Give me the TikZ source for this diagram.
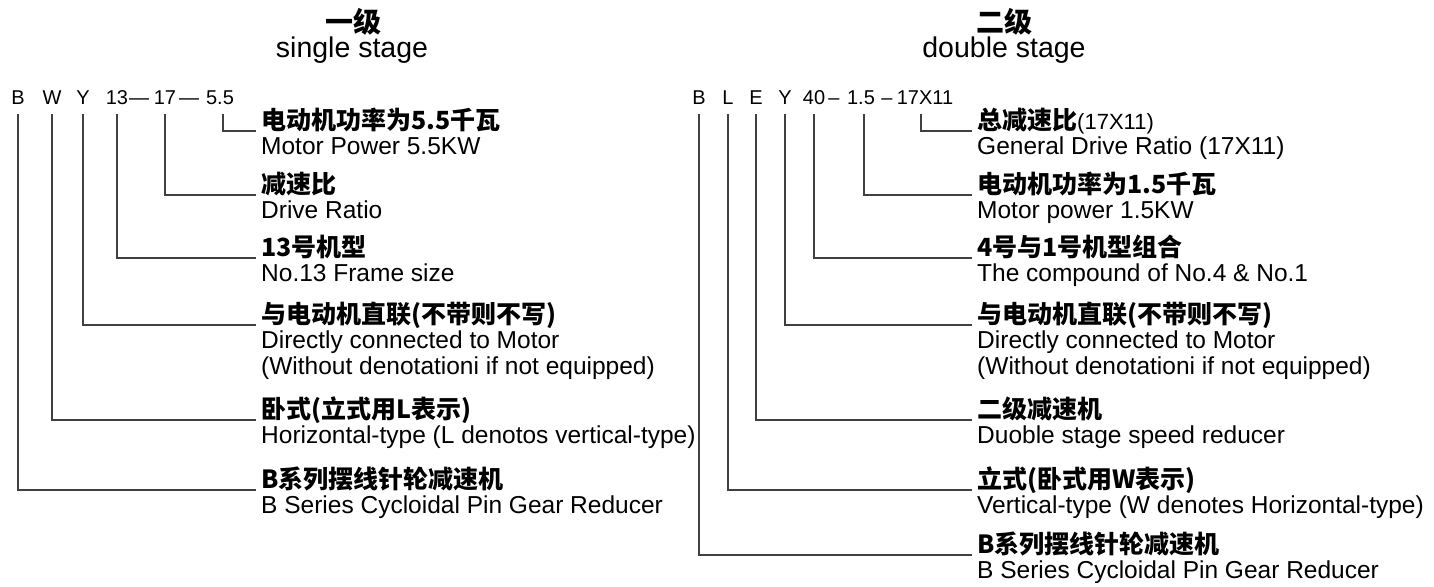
\documentclass[tikz,border=0pt]{standalone}
\usepackage{fontspec}
\setmainfont{Liberation Sans}
\newfontfamily\cjk{Noto Sans CJK SC}
\usetikzlibrary{calc}
\tikzset{
  tok/.style={font=\fontsize{20}{22}\selectfont, anchor=base, inner sep=0pt, text depth=0pt, outer ysep=10pt},
  cnlbl/.style={font=\fontsize{25}{28}\selectfont\cjk\bfseries, anchor=base west, inner sep=0pt},
  enlbl/.style={font=\fontsize{24.5}{28}\selectfont, anchor=base west, inner sep=0pt},
  lead/.style={draw=black!75, line width=1.3pt},
}

\begin{document}
\begin{tikzpicture}[x=1pt, y=-1pt]
  \useasboundingbox[fill=white] (0,0) rectangle (1434,586);
  % titles
  \node[font=\fontsize{28}{30}\selectfont\cjk\bfseries, anchor=base] (ttlA) at (353,33) {一级};
  \node[font=\fontsize{28.5}{30}\selectfont, anchor=base] (subA) at (352,57) {single stage};
  \node[font=\fontsize{28}{30}\selectfont\cjk\bfseries, anchor=base] (ttlB) at (1004,33) {二级};
  \node[font=\fontsize{28.5}{30}\selectfont, anchor=base] (subB) at (1004,57) {double stage};

  % single stage code
  \node[tok] (lb) at (18,104) {B};
  \node[tok] (lw) at (52,104) {W};
  \node[tok] (ly) at (83,104) {Y};
  \node[tok] (l13) at (117,104) {13};
  \node[tok] (ldA) at (139,104) {---};
  \node[tok] (l17) at (165,104) {17};
  \node[tok] (ldB) at (189,104) {---};
  \node[tok] (l55) at (220,104) {5.5};

  \coordinate (ka) at (256,131);
  \coordinate (kb) at (256,195);
  \coordinate (kc) at (256,258);
  \coordinate (kd) at (256,325);
  \coordinate (ke) at (256,420);
  \coordinate (kf) at (256,490);
  \draw[lead] ([xshift=3pt]l55.south) |- (ka);
  \draw[lead] (l17.south) |- (kb);
  \draw[lead] (l13.south) |- (kc);
  \draw[lead] (ly.south) |- (kd);
  \draw[lead] (lw.south) |- (ke);
  \draw[lead] (lb.south) |- (kf);

  \node[cnlbl] (cA) at (261,129) {电动机功率为5.5千瓦};
  \node[enlbl] (eA) at (261,154) {Motor Power 5.5KW};
  \node[cnlbl] (cB) at (261,193) {减速比};
  \node[enlbl] (eB) at (261,218) {Drive Ratio};
  \node[cnlbl] (cC) at (261,256) {13号机型};
  \node[enlbl] (eC) at (261,281) {No.13 Frame size};
  \node[cnlbl] (cD) at (261,323) {与电动机直联(不带则不写)};
  \node[enlbl] (eD) at (261,348) {Directly connected to Motor};
  \node[enlbl] (fD) at (261,374) {(Without denotationi if not equipped)};
  \node[cnlbl] (cE) at (261,418) {卧式(立式用L表示)};
  \node[enlbl] (eE) at (261,443) {Horizontal-type (L denotos vertical-type)};
  \node[cnlbl] (cF) at (261,488) {B系列摆线针轮减速机};
  \node[enlbl] (eF) at (261,513) {B Series Cycloidal Pin Gear Reducer};

  % double stage code
  \node[tok] (rb) at (699,104) {B};
  \node[tok] (rl) at (728,104) {L};
  \node[tok] (re) at (756,104) {E};
  \node[tok] (ry) at (785,104) {Y};
  \node[tok] (r40) at (814,104) {40};
  \node[tok] (rdA) at (834,104) {--};
  \node[tok] (r15) at (861,104) {1.5};
  \node[tok] (rdB) at (887,104) {--};
  \node[tok] (r1711) at (925,104) {17X11};

  \coordinate (ma) at (972,131);
  \coordinate (mb) at (972,195);
  \coordinate (mc) at (972,258);
  \coordinate (md) at (972,325);
  \coordinate (me) at (972,420);
  \coordinate (mf) at (972,490);
  \coordinate (mg) at (972,555);
  \draw[lead] ([xshift=-4pt]r1711.south) |- (ma);
  \draw[lead] ([xshift=3pt]r15.south) |- (mb);
  \draw[lead] (r40.south) |- (mc);
  \draw[lead] (ry.south) |- (md);
  \draw[lead] (re.south) |- (me);
  \draw[lead] (rl.south) |- (mf);
  \draw[lead] (rb.south) |- (mg);

  \node[cnlbl] (dA) at (977,129) {总减速比{\normalfont\fontsize{22}{24}\selectfont(17X11)}};
  \node[enlbl] (gA) at (977,154) {General Drive Ratio (17X11)};
  \node[cnlbl] (dB) at (977,193) {电动机功率为1.5千瓦};
  \node[enlbl] (gB) at (977,218) {Motor power 1.5KW};
  \node[cnlbl] (dC) at (977,256) {4号与1号机型组合};
  \node[enlbl] (gC) at (977,281) {The compound of No.4 \& No.1};
  \node[cnlbl] (dD) at (977,323) {与电动机直联(不带则不写)};
  \node[enlbl] (gD) at (977,348) {Directly connected to Motor};
  \node[enlbl] (hD) at (977,374) {(Without denotationi if not equipped)};
  \node[cnlbl] (dE) at (977,418) {二级减速机};
  \node[enlbl] (gE) at (977,443) {Duoble stage speed reducer};
  \node[cnlbl] (dF) at (977,488) {立式(卧式用W表示)};
  \node[enlbl] (gF) at (977,513) {Vertical-type (W denotes Horizontal-type)};
  \node[cnlbl] (dG) at (977,553) {B系列摆线针轮减速机};
  \node[enlbl] (gG) at (977,578) {B Series Cycloidal Pin Gear Reducer};
\end{tikzpicture}
\end{document}
